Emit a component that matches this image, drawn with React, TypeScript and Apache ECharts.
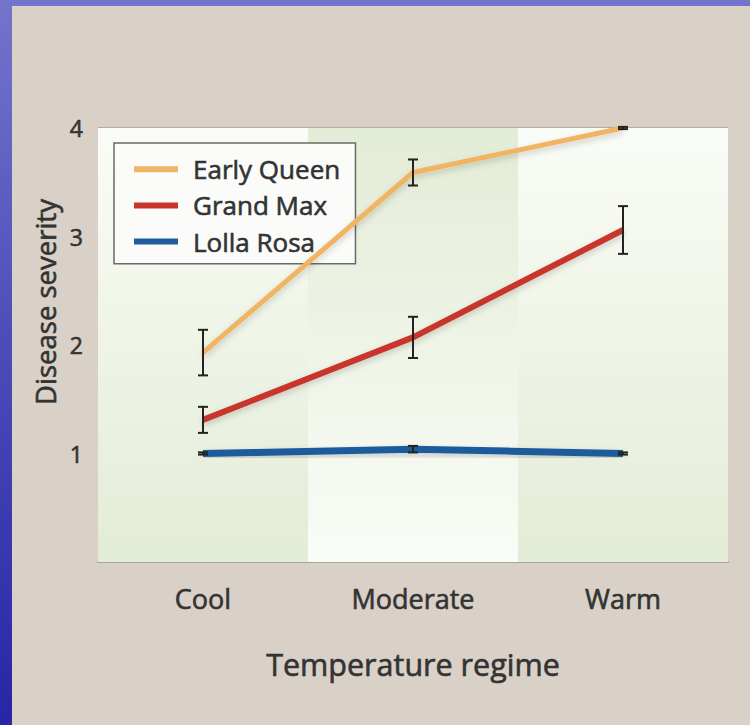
import React, { useEffect, useRef } from "react";
import * as echarts from "echarts";

const categories = ["Cool", "Moderate", "Warm"];
const seriesNames = ["Early Queen", "Grand Max", "Lolla Rosa"];
const earlyQueen = [1.93, 3.59, 4.0];
const earlyQueenErr = [0.21, 0.12, 0.01];
const grandMax = [1.31, 2.07, 3.06];
const grandMaxErr = [0.12, 0.19, 0.22];
const lollaRosa = [1.0, 1.04, 1.0];
const lollaRosaErr = [0.01, 0.03, 0.01];
const yTicks = [0, 1, 2, 3, 4];
const bandValues = [4, 4, 4];

const colors = ["#f0b464", "#c8352c", "#1f5c9c"];
const FONT = "'Open Sans', sans-serif";
const TEXT = "#333333";
const thick = { textBorderColor: TEXT, textBorderWidth: 0.6 };

export default function App() {
  const ref = useRef<HTMLDivElement>(null);
  useEffect(() => {
    if (!ref.current) return;
    const chart = echarts.init(ref.current, null, { renderer: "svg" });
    const green = "#e3ecd6";
    const white = "#fafcf7";
    const grad = (top: string, bottom: string) =>
      new echarts.graphic.LinearGradient(0, 0, 0, 1, [
        { offset: 0, color: top },
        { offset: 1, color: bottom },
      ]);
    const bandColors = [grad(white, green), grad(green, white), grad(white, green)];
    const errSeries = (name: string, vals: number[], errs: number[], z: number) => ({
      type: "custom",
      name: name + " err",
      z,
      silent: true,
      data: vals.map((v, i) => [i, v - errs[i], v + errs[i]]),
      renderItem: (params: any, api: any) => {
        const x = api.value(0);
        const lo = api.coord([x, api.value(1)]);
        const hi = api.coord([x, api.value(2)]);
        const w = 5;
        const style = { stroke: "#222", lineWidth: 2 };
        return {
          type: "group",
          children: [
            { type: "line", shape: { x1: lo[0], y1: lo[1], x2: hi[0], y2: hi[1] }, style },
            { type: "line", shape: { x1: lo[0] - w, y1: lo[1], x2: lo[0] + w, y2: lo[1] }, style },
            { type: "line", shape: { x1: hi[0] - w, y1: hi[1], x2: hi[0] + w, y2: hi[1] }, style },
          ],
        };
      },
    });
    const lineSeries = (name: string, vals: number[], color: string, width: number, z: number) => ({
      type: "line",
      name,
      data: vals,
      showSymbol: false,
      symbol: "none",
      z,
      itemStyle: { color },
      lineStyle: {
        color,
        width,
        shadowColor: "rgba(0,0,0,0.18)",
        shadowBlur: 6,
        shadowOffsetY: 3,
      },
    });
    chart.setOption({
      animation: false,
      backgroundColor: "#d9d1c7",
      grid: { left: 86, right: 22, top: 122, bottom: 163 },
      legend: {
        data: seriesNames,
        orient: "vertical",
        left: 102,
        top: 137,
        icon: "rect",
        itemWidth: 44,
        itemHeight: 6,
        itemGap: 9.5,
        padding: [13, 15, 9, 20],
        backgroundColor: "#fbfcfa",
        borderColor: "#6a6a66",
        borderWidth: 1.5,
        borderRadius: 0,
        textStyle: {
          fontFamily: FONT,
          fontSize: 26,
          color: TEXT,
          lineHeight: 24,
          padding: [0, 0, 0, 10],
          ...thick,
        },
      },
      xAxis: {
        type: "category",
        data: categories,
        boundaryGap: true,
        name: "Temperature regime",
        nameLocation: "middle",
        nameGap: 86,
        nameTextStyle: { fontFamily: FONT, fontSize: 30.5, color: TEXT, ...thick },
        axisLine: { show: true, lineStyle: { color: "#a7a69b", width: 2 } },
        axisTick: { show: false },
        axisLabel: { fontFamily: FONT, fontSize: 27, color: TEXT, margin: 23, ...thick },
        splitLine: { show: false },
      },
      yAxis: {
        type: "value",
        min: yTicks[0],
        max: yTicks[yTicks.length - 1],
        interval: 1,
        axisLine: { show: false },
        axisTick: { show: false },
        axisLabel: {
          fontFamily: FONT,
          fontSize: 23,
          color: TEXT,
          margin: 15,
          formatter: (v: number) => (v === 0 ? "" : String(v)),
          ...thick,
        },
        splitLine: {
          show: true,
          lineStyle: { color: ["transparent", "#77786a", "#77786a", "#77786a", "#a5a598"], width: 1.5 },
        },
      },
      graphic: [
        {
          type: "text",
          x: 33,
          y: 296,
          rotation: Math.PI / 2,
          style: {
            text: "Disease severity",
            fontFamily: FONT,
            fontSize: 27.5,
            fill: TEXT,
            stroke: TEXT,
            lineWidth: 0.6,
            textAlign: "center",
            textVerticalAlign: "middle",
          },
        },
      ],
      series: [
        {
          type: "bar",
          name: "bands",
          data: bandValues.map((v, i) => ({ value: v, itemStyle: { color: bandColors[i] } })),
          barWidth: "100%",
          barCategoryGap: "0%",
          silent: true,
          z: 0,
        },
        lineSeries(seriesNames[2], lollaRosa, colors[2], 7, 3),
        lineSeries(seriesNames[1], grandMax, colors[1], 6, 4),
        lineSeries(seriesNames[0], earlyQueen, colors[0], 5, 5),
        errSeries(seriesNames[0], earlyQueen, earlyQueenErr, 10),
        errSeries(seriesNames[1], grandMax, grandMaxErr, 10),
        errSeries(seriesNames[2], lollaRosa, lollaRosaErr, 10),
      ],
    });
    return () => chart.dispose();
  }, []);
  return (
    <div
      style={{
        position: "absolute",
        left: 0,
        top: 0,
        width: 750,
        height: 725,
        background: "linear-gradient(180deg, #7474cc 0%, #4a4ab8 50%, #2626a6 100%)",
      }}
    >
      <div ref={ref} style={{ position: "absolute", left: 12, top: 6, width: 738, height: 719 }} />
    </div>
  );
}
